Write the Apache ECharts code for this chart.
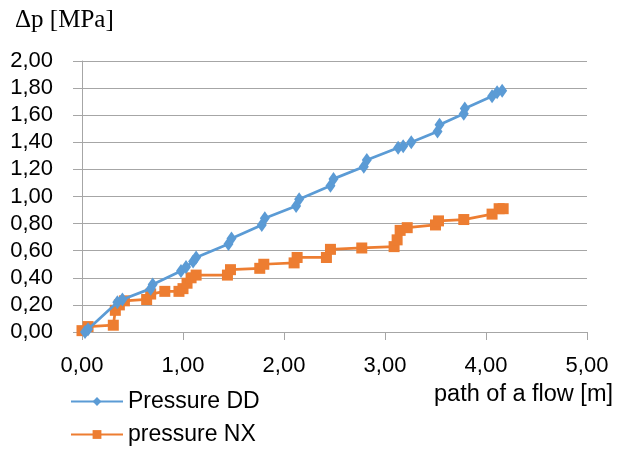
<!DOCTYPE html>
<html>
<head>
<meta charset="utf-8">
<script src="https://cdn.jsdelivr.net/npm/echarts@6/dist/echarts.min.js"></script>
<style>
  html, body { margin: 0; padding: 0; background: #fff; }
  #chart { width: 618px; height: 449px; }
</style>
</head>
<body>
<div id="chart"></div>
<script>
// path of a flow [m] / pressure difference [MPa]
const ddPath = [0.03, 0.06, 0.35, 0.40, 0.68, 0.70, 0.98, 1.03, 1.10, 1.13, 1.45, 1.48, 1.78, 1.81, 2.12, 2.15, 2.46, 2.49, 2.79, 2.82, 3.13, 3.18, 3.26, 3.52, 3.54, 3.78, 3.79, 4.06, 4.11, 4.16];
const ddPressure = [0.00, 0.02, 0.22, 0.24, 0.32, 0.35, 0.45, 0.48, 0.52, 0.55, 0.65, 0.69, 0.79, 0.84, 0.93, 0.98, 1.08, 1.13, 1.22, 1.27, 1.36, 1.37, 1.40, 1.48, 1.53, 1.61, 1.65, 1.74, 1.77, 1.78];

const nxPath = [0.00, 0.06, 0.31, 0.33, 0.37, 0.42, 0.64, 0.68, 0.82, 0.96, 1.00, 1.04, 1.08, 1.13, 1.44, 1.47, 1.76, 1.80, 2.10, 2.13, 2.42, 2.46, 2.77, 3.09, 3.12, 3.15, 3.22, 3.50, 3.53, 3.78, 4.06, 4.13, 4.17];
const nxPressure = [0.01, 0.04, 0.05, 0.16, 0.20, 0.23, 0.24, 0.28, 0.30, 0.30, 0.32, 0.36, 0.40, 0.42, 0.42, 0.46, 0.47, 0.50, 0.51, 0.55, 0.55, 0.61, 0.62, 0.63, 0.68, 0.75, 0.77, 0.79, 0.82, 0.83, 0.87, 0.91, 0.91];

const seriesNames = ['Pressure DD', 'pressure NX'];
const xTitle = 'path of a flow [m]';
const yTitle = 'Δp [MPa]';

const zip = (xs, ys) => xs.map((x, i) => [x, ys[i]]);
const fmt = v => v.toFixed(2).replace('.', ',');

const blue = '#5B9BD5';
const orange = '#ED7D31';
const gridGray = '#a6a6a6';
const font = '"Liberation Sans", Arial, sans-serif';

const chart = echarts.init(document.getElementById('chart'));

chart.setOption({
  animation: false,
  grid: { left: 82, right: 31, top: 61, bottom: 117, containLabel: false },
  xAxis: {
    type: 'value',
    min: 0,
    max: 5,
    interval: 1,
    axisLine: { show: true, lineStyle: { color: gridGray, width: 1 } },
    axisTick: { show: true, length: 8, lineStyle: { color: gridGray } },
    splitLine: { show: false },
    axisLabel: {
      margin: 23,
      color: '#000',
      fontFamily: font,
      fontSize: 22,
      formatter: fmt
    }
  },
  yAxis: {
    type: 'value',
    min: 0,
    max: 2,
    interval: 0.2,
    axisLine: { show: true, lineStyle: { color: gridGray, width: 1 } },
    axisTick: { show: true, length: 9, lineStyle: { color: gridGray } },
    splitLine: { show: true, lineStyle: { color: gridGray, width: 1 } },
    axisLabel: {
      margin: 29,
      color: '#000',
      fontFamily: font,
      fontSize: 22,
      formatter: fmt
    }
  },
  legend: {
    orient: 'vertical',
    left: 70,
    top: 390,
    padding: 0,
    itemGap: 10,
    itemWidth: 52,
    itemHeight: 11,
    textStyle: { color: '#000', fontFamily: font, fontSize: 23, lineHeight: 23 },
    data: seriesNames
  },
  graphic: [
    {
      type: 'text',
      left: 15,
      top: 8,
      style: {
        text: yTitle,
        fill: '#000',
        font: '25px "Liberation Serif", "Times New Roman", serif'
      }
    },
    {
      type: 'text',
      right: 5,
      top: 383,
      style: {
        text: xTitle,
        fill: '#000',
        font: '23.5px "Liberation Sans", Arial, sans-serif'
      }
    }
  ],
  series: [
    {
      name: seriesNames[0],
      type: 'line',
      data: zip(ddPath, ddPressure),
      symbol: 'diamond',
      symbolSize: [10, 14],
      lineStyle: { color: blue, width: 2.75 },
      itemStyle: { color: blue },
      z: 3
    },
    {
      name: seriesNames[1],
      type: 'line',
      data: zip(nxPath, nxPressure),
      symbol: 'rect',
      symbolSize: 11,
      lineStyle: { color: orange, width: 2.75 },
      itemStyle: { color: orange },
      z: 2
    }
  ]
});
</script>
</body>
</html>
